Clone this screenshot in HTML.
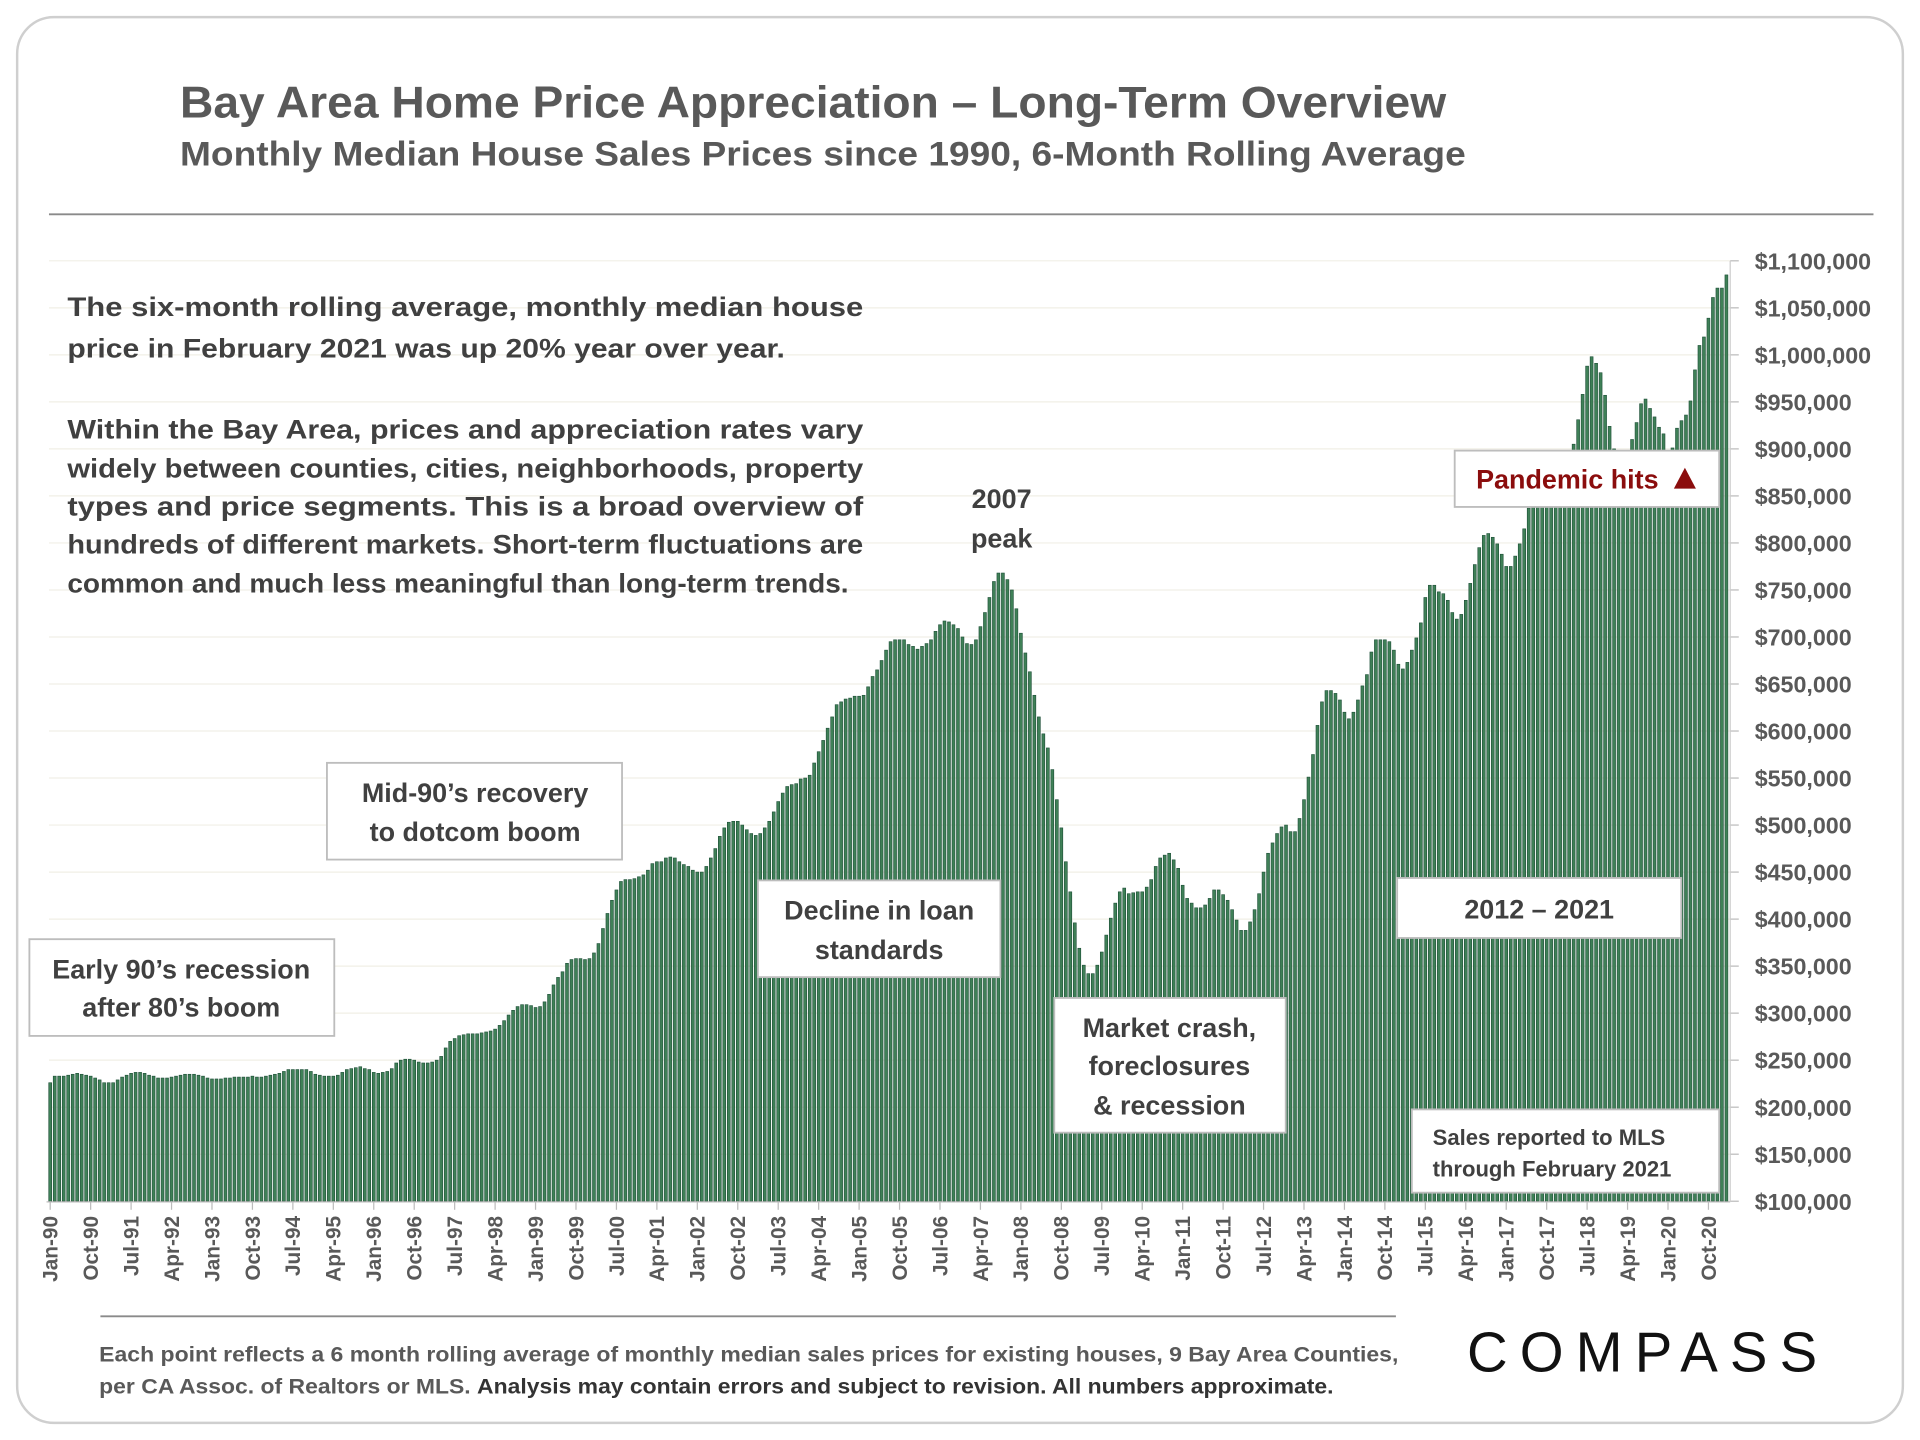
<!DOCTYPE html>
<html><head><meta charset="utf-8"><style>
html,body{margin:0;padding:0;background:#fff;}
svg{display:block;}
text{font-family:"Liberation Sans",sans-serif;}
</style></head><body>
<svg id="chart" width="1920" height="1440" viewBox="0 0 1568 1176" xmlns="http://www.w3.org/2000/svg">
<rect x="14" y="14" width="1540" height="1148" rx="30" fill="#fff" stroke="#cfcfcf" stroke-width="2"/>
<text x="147" y="96" font-size="36" font-weight="bold" fill="#595959" textLength="1034" lengthAdjust="spacingAndGlyphs">Bay Area Home Price Appreciation – Long-Term Overview</text>
<text x="147" y="135" font-size="28" font-weight="bold" fill="#595959" textLength="1050" lengthAdjust="spacingAndGlyphs">Monthly Median House Sales Prices since 1990, 6-Month Rolling Average</text>
<line x1="40" y1="175" x2="1530" y2="175" stroke="#8a8a8a" stroke-width="1.5"/>
<g id="grid"></g>
<g id="bars"></g>
<g id="yaxis"></g>
<g id="xaxis"></g>

<g font-size="22" font-weight="bold" fill="#404040">
<text x="55" y="258" textLength="650" lengthAdjust="spacingAndGlyphs">The six-month rolling average, monthly median house</text>
<text x="55" y="292" textLength="586" lengthAdjust="spacingAndGlyphs">price in February 2021 was up 20% year over year.</text>
<text x="55" y="358" textLength="650" lengthAdjust="spacingAndGlyphs">Within the Bay Area, prices and appreciation rates vary</text>
<text x="55" y="390" textLength="650" lengthAdjust="spacingAndGlyphs">widely between counties, cities, neighborhoods, property</text>
<text x="55" y="421" textLength="650" lengthAdjust="spacingAndGlyphs">types and price segments. This is a broad overview of</text>
<text x="55" y="452" textLength="650" lengthAdjust="spacingAndGlyphs">hundreds of different markets. Short-term fluctuations are</text>
<text x="55" y="484" textLength="638" lengthAdjust="spacingAndGlyphs">common and much less meaningful than long-term trends.</text>
</g>

<g>
<rect x="24" y="767" width="249" height="79" fill="#fff" stroke="#bdbdbd" stroke-width="1.5"/>
<text x="148" y="799" font-size="22" font-weight="bold" fill="#404040" text-anchor="middle">Early 90’s recession</text>
<text x="148" y="830" font-size="22" font-weight="bold" fill="#404040" text-anchor="middle">after 80’s boom</text>
</g>
<g>
<rect x="267" y="623" width="241" height="79" fill="#fff" stroke="#bdbdbd" stroke-width="1.5"/>
<text x="388" y="655" font-size="22" font-weight="bold" fill="#404040" text-anchor="middle">Mid-90’s recovery</text>
<text x="388" y="687" font-size="22" font-weight="bold" fill="#404040" text-anchor="middle">to dotcom boom</text>
</g>
<g>
<rect x="619" y="719" width="198" height="79" fill="#fff" stroke="#bdbdbd" stroke-width="1.5"/>
<text x="718" y="751" font-size="22" font-weight="bold" fill="#404040" text-anchor="middle">Decline in loan</text>
<text x="718" y="783" font-size="22" font-weight="bold" fill="#404040" text-anchor="middle">standards</text>
</g>
<g>
<text x="818" y="415" font-size="22" font-weight="bold" fill="#404040" text-anchor="middle">2007</text>
<text x="818" y="447" font-size="22" font-weight="bold" fill="#404040" text-anchor="middle">peak</text>
</g>
<g>
<rect x="861" y="815" width="189" height="110" fill="#fff" stroke="#bdbdbd" stroke-width="1.5"/>
<text x="955" y="847" font-size="22" font-weight="bold" fill="#404040" text-anchor="middle">Market crash,</text>
<text x="955" y="878" font-size="22" font-weight="bold" fill="#404040" text-anchor="middle">foreclosures</text>
<text x="955" y="910" font-size="22" font-weight="bold" fill="#404040" text-anchor="middle">&amp; recession</text>
</g>
<g>
<rect x="1141" y="717" width="232" height="49" fill="#fff" stroke="#bdbdbd" stroke-width="1.5"/>
<text x="1257" y="750" font-size="22" font-weight="bold" fill="#404040" text-anchor="middle">2012 – 2021</text>
</g>
<g>
<rect x="1188" y="368" width="216" height="46" fill="#fff" stroke="#bdbdbd" stroke-width="1.5"/>
<text x="1280" y="399" font-size="22" font-weight="bold" fill="#8b0d0d" text-anchor="middle">Pandemic hits</text>
<polygon points="1367,399 1376,382 1385,399" fill="#8b0d0d"/>
</g>
<g>
<rect x="1153" y="906" width="251" height="68" fill="#fff" stroke="#bdbdbd" stroke-width="1.5"/>
<text x="1170" y="935" font-size="18" font-weight="bold" fill="#404040">Sales reported to MLS</text>
<text x="1170" y="961" font-size="18" font-weight="bold" fill="#404040">through February 2021</text>
</g>

<line x1="82" y1="1075" x2="1140" y2="1075" stroke="#8a8a8a" stroke-width="1.5"/>
<g font-size="17" font-weight="bold">
<text x="81" y="1112" fill="#595959" textLength="1061" lengthAdjust="spacingAndGlyphs">Each point reflects a 6 month rolling average of monthly median sales prices for existing houses, 9 Bay Area Counties,</text>
<text x="81" y="1138" textLength="1008" lengthAdjust="spacingAndGlyphs"><tspan fill="#595959">per CA Assoc. of Realtors or MLS. </tspan><tspan fill="#333">Analysis may contain errors and subject to revision. All numbers approximate.</tspan></text>
</g>
<text x="1198" y="1120" font-size="46" fill="#111" textLength="286" lengthAdjust="spacing">COMPASS</text>
</svg>
<script>
const tickLabels = ["Jan-90","Oct-90","Jul-91","Apr-92","Jan-93","Oct-93","Jul-94","Apr-95","Jan-96","Oct-96","Jul-97","Apr-98","Jan-99","Oct-99","Jul-00","Apr-01","Jan-02","Oct-02","Jul-03","Apr-04","Jan-05","Oct-05","Jul-06","Apr-07","Jan-08","Oct-08","Jul-09","Apr-10","Jan-11","Oct-11","Jul-12","Apr-13","Jan-14","Oct-14","Jul-15","Apr-16","Jan-17","Oct-17","Jul-18","Apr-19","Jan-20","Oct-20"];
const tickStep = 9;
const yTicks = [100000,150000,200000,250000,300000,350000,400000,450000,500000,550000,600000,650000,700000,750000,800000,850000,900000,950000,1000000,1050000,1100000];
// monthly values in thousands of dollars, Jan-1990 .. Feb-2021
const values1990s = [226,233,233,233,234,235,236,235,234,233,231,229,226,226,226,229,232,234,236,237,237,236,234,233,231,231,231,232,233,234,235,235,235,234,233,231,230,230,230,231,231,232,232,232,232,233,232,232,233,234,235,236,238,240,240,240,240,240,238,235,234,233,233,233,234,237,240,241,242,243,241,240,237,236,237,238,241,247,250,251,251,250,248,247,247,248,250,254,263,270,273,276,277,278,278,278,279,280,281,283,287,292,298,303,307,309,309,308,306,307,312,320,330,338];
const values2000s = [344,353,357,358,358,357,358,364,374,390,406,420,431,440,442,442,443,445,447,452,459,461,461,465,466,465,461,458,456,452,450,450,456,465,475,488,497,503,504,504,500,495,491,489,491,497,504,514,525,534,541,543,544,549,550,553,566,578,590,603,615,628,631,634,635,637,637,638,647,658,665,675,686,695,697,697,697,692,690,687,690,693,697,706,713,717,716,713,709,700,693,692,697,711,726,742,759,768,768,761,750,730,704,683,663,638,615,597,582,559,527,497,461,429,396,369,351,342,342,351,365,383,401,417,429,433,427,428,429,429,434,442,456,465,468,470,463,454,436,422,417,412,412,415,422,431,431,426,420,410,399,388,388,397,410,427,450,470,481,491,498,500];
const values2010s = [493,493,507,527,551,575,606,631,643,643,640,633,620,613,620,633,648,660,684,697,697,697,695,686,671,666,673,686,699,715,742,755,755,748,746,739,726,719,724,739,757,777,795,808,810,806,799,788,775,775,786,799,815,837,845,855,862,870,876,882,888,893,898,905,931,958,988,998,991,981,957,924,900,890,885,892,910,928,948,953,943,934,923,916,895,901,922,930,936,951,984,1010,1019,1039,1061,1071,1071,1085];
const values = values1990s.concat(values2000s, values2010s);

const NS = "http://www.w3.org/2000/svg";
const X0 = 41, DX = 3.67, Y_TOP = 213, Y_BOT = 981, VMIN = 100000, VMAX = 1100000;
function xScale(i){ return X0 + i*DX; }
function yScale(v){ return Y_BOT - (v - VMIN)/(VMAX - VMIN)*(Y_BOT - Y_TOP); }
function mk(tag, attrs){ const e = document.createElementNS(NS, tag); for (const k in attrs) e.setAttribute(k, attrs[k]); return e; }
function fmt(v){ return "$" + v.toString().replace(/\B(?=(\d{3})+(?!\d))/g, ","); }

const grid = document.getElementById("grid");
const yaxis = document.getElementById("yaxis");
yTicks.forEach(v => {
  const y = yScale(v);
  const gl = mk("line", {x1:40, x2:1413, y1:y, y2:y, stroke:"#f1efe6", "stroke-width":1});
  
  
  grid.appendChild(gl);
  const tk = mk("line", {x1:1413, x2:1420, y1:y, y2:y, stroke:"#bbb", "stroke-width":1});
  
  
  yaxis.appendChild(tk);
  const t = mk("text", {x:1433, y:y+7, "font-size":19, "font-weight":"bold", fill:"#595959"});
  
  
  t.textContent = fmt(v);
  yaxis.appendChild(t);
});
const yl = mk("line", {x1:1413, x2:1413, y1:213, y2:981, stroke:"#ccc", "stroke-width":1});


yaxis.appendChild(yl);

const bars = document.getElementById("bars");
values.forEach((v, i) => {
  const x = xScale(i), y = yScale(v*1000);
  const r = mk("rect", {x:x-1.2, y:y, width:2.4, height:Y_BOT-y, fill:"#3f8057", stroke:"#1d4f37", "stroke-width":0.5});
  
  
  bars.appendChild(r);
});

const xaxis = document.getElementById("xaxis");
const xl = mk("line", {x1:38, x2:1413, y1:981.5, y2:981.5, stroke:"#bbb", "stroke-width":1});


xaxis.appendChild(xl);
tickLabels.forEach((lab, k) => {
  const x = xScale(k*tickStep);
  const tk = mk("line", {x1:x, x2:x, y1:981, y2:988, stroke:"#bbb", "stroke-width":1});
  
  
  xaxis.appendChild(tk);
  const t = mk("text", {x:0, y:0, "font-size":17, "font-weight":"bold", fill:"#595959", "text-anchor":"end", transform:"translate(" + (x+6) + ",993) rotate(-90)"});
  
  
  t.textContent = lab;
  xaxis.appendChild(t);
});
</script>
</body></html>
